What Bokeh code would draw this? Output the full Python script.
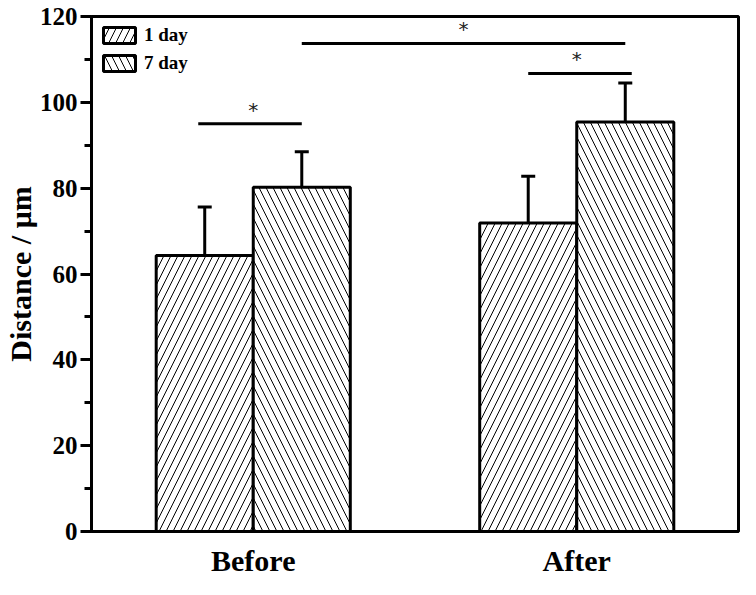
from bokeh.plotting import figure
from bokeh.models import (ColumnDataSource, Range1d, Whisker, TeeHead, SingleIntervalTicker,
                          FixedTicker, Legend, LegendItem)
from bokeh.core.properties import value
from bokeh.embed import file_html
from bokeh.resources import INLINE

# ---- data ----
groups = ["Before", "After"]
series = ["1 day", "7 day"]
day1_mean = [64.3, 71.9]
day1_err = [11.3, 10.9]
day7_mean = [80.2, 95.4]
day7_err = [8.3, 9.1]
y_ticks = [0, 20, 40, 60, 80, 100, 120]

# significance brackets: (group, series) of start and end bar, bracket height
sig_start_group = [0, 0, 1]
sig_start_series = [0, 1, 0]
sig_end_group = [0, 1, 1]
sig_end_series = [1, 1, 1]
sig_height = [95.0, 113.7, 106.7]
sig_ext_left = [0.02, 0.0, 0.0]
sig_ext_right = [0.0, 0.0, 0.02]
sig_label = ["*", "*", "*"]

# ---- layout helpers ----
group_x = [i + 0.5 for i in range(len(groups))]
bar_w = 0.3
series_off = [-bar_w / 2, bar_w / 2]

FONT = "Liberation Serif"

p = figure(width=740, height=579, x_range=Range1d(0, 2), y_range=Range1d(start=y_ticks[0], end=y_ticks[-1]),
           output_backend="svg", toolbar_location=None,
           min_border_left=83, min_border_right=2, min_border_top=16, min_border_bottom=40)
p.grid.visible = False
p.outline_line_color = "black"
p.outline_line_width = 3
p.background_fill_color = "white"
p.border_fill_color = "white"

hatches = ["right_diagonal_line", "left_diagonal_line"]
means = [day1_mean, day7_mean]
errs = [day1_err, day7_err]
renderers = []
for s in range(2):
    xs = [gx + series_off[s] for gx in group_x]
    src = ColumnDataSource(dict(x=xs, top=means[s], upper=[m + e for m, e in zip(means[s], errs[s])]))
    r = p.vbar(x="x", top="top", width=bar_w, source=src, fill_color="white",
               line_color="black", line_width=3, hatch_pattern=hatches[s],
               hatch_color="black", hatch_weight=1, hatch_scale=14)
    renderers.append(r)
    w = Whisker(base="x", lower="top", upper="upper", source=src,
                line_color="black", line_width=3,
                upper_head=TeeHead(size=14, line_width=3, line_color="black"),
                lower_head=None)
    p.add_layout(w)

# significance brackets
x0s, x1s, mids = [], [], []
for i in range(len(sig_height)):
    a = group_x[sig_start_group[i]] + series_off[sig_start_series[i]]
    b = group_x[sig_end_group[i]] + series_off[sig_end_series[i]]
    x0s.append(a - sig_ext_left[i])
    x1s.append(b + sig_ext_right[i])
    mids.append((a + b) / 2)
p.segment(x0=x0s, x1=x1s, y0=sig_height, y1=sig_height, line_color="black", line_width=3)
p.text(x=mids, y=[h + 3.3 for h in sig_height], text=sig_label, text_align="center",
       text_baseline="middle", text_font=value("DejaVu Sans"), text_font_size="20px",
       text_color="#222222")

# axes
p.yaxis.ticker = SingleIntervalTicker(interval=20, num_minor_ticks=2)
p.yaxis.axis_label = "Distance / μm"
p.yaxis.axis_label_text_font = FONT
p.yaxis.axis_label_text_font_style = "bold"
p.yaxis.axis_label_text_font_size = "30px"
p.yaxis.axis_label_text_color = "black"
p.yaxis.axis_label_standoff = 0
p.yaxis.major_label_text_font = FONT
p.yaxis.major_label_text_font_style = "bold"
p.yaxis.major_label_text_font_size = "25px"
p.yaxis.major_label_text_color = "black"
p.yaxis.major_label_standoff = 3
p.yaxis.major_tick_out = 11
p.yaxis.major_tick_in = 0
p.yaxis.minor_tick_out = 7
p.yaxis.minor_tick_in = 0
p.yaxis.major_tick_line_width = 3
p.yaxis.minor_tick_line_width = 3
p.yaxis.axis_line_width = 3

p.xaxis.ticker = FixedTicker(ticks=group_x)
p.xaxis.major_label_overrides = {gx: g for gx, g in zip(group_x, groups)}
p.xaxis.major_label_text_font = FONT
p.xaxis.major_label_text_font_style = "bold"
p.xaxis.major_label_text_font_size = "30px"
p.xaxis.major_label_text_color = "black"
p.xaxis.major_label_standoff = 6
p.xaxis.major_tick_line_color = None
p.xaxis.minor_tick_line_color = None
p.xaxis.axis_line_width = 3

legend = Legend(items=[LegendItem(label=series[i], renderers=[renderers[i]]) for i in range(2)],
                location="top_left", glyph_width=40, glyph_height=20, padding=0, margin=8,
                spacing=6, label_text_font=FONT, label_text_font_style="bold",
                label_text_font_size="19px", label_standoff=5, label_text_color="black",
                border_line_color=None, background_fill_alpha=0)
p.add_layout(legend)

open("out.html", "w").write(file_html(p, INLINE))
